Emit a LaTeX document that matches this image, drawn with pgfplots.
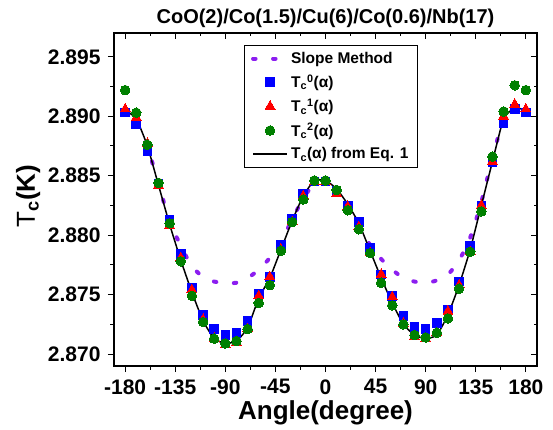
\documentclass[border=0pt]{standalone}
\usepackage{pgfplots}
\usepackage{pgfplotstable}
\pgfplotsset{compat=1.18}
\usepackage{fontspec}
\setmainfont{Liberation Sans}
\definecolor{slopec}{RGB}{140,30,240}
\definecolor{mygreen}{RGB}{0,128,0}

\pgfplotstableread{
x t0 t1 t2 eq sl
-180 2.8903 2.8906 2.8922 2.8905 2.8907
-170 2.8893 2.8899 2.8903 2.8898 2.8892
-160 2.8871 2.8877 2.8876 2.8875 2.8874
-150 2.8843 2.8842 2.8844 2.8842 2.8843
-140 2.8813 2.8808 2.8810 2.8809 2.8812
-130 2.8784 2.8781 2.8778 2.8779 2.8791
-120 2.8756 2.8754 2.8749 2.8752 2.8774
-110 2.8733 2.8729 2.8727 2.8728 2.8765
-100 2.8721 2.8713 2.8713 2.8713 2.8761
-90 2.8716 2.8708 2.8709 2.8709 2.8760
-80 2.8718 2.8710 2.8711 2.8711 2.8760
-70 2.8728 2.8721 2.8721 2.8722 2.8764
-60 2.8751 2.8749 2.8743 2.8747 2.8771
-50 2.8765 2.8765 2.8758 2.8764 2.8781
-40 2.8792 2.8788 2.8787 2.8788 2.8795
-30 2.8814 2.8811 2.8811 2.8812 2.8813
-20 2.8835 2.8833 2.8830 2.8833 2.8831
-10 2.8845 2.8845 2.8846 2.8846 2.8843
0 2.8845 2.8845 2.8846 2.8846 2.8846
10 2.8837 2.8835 2.8838 2.8839 2.8836
20 2.8825 2.8824 2.8821 2.8826 2.8822
30 2.8811 2.8807 2.8805 2.8810 2.8807
40 2.8789 2.8785 2.8785 2.8787 2.8792
50 2.8767 2.8767 2.8760 2.8764 2.8780
60 2.8749 2.8748 2.8741 2.8743 2.8771
70 2.8732 2.8726 2.8725 2.8725 2.8764
80 2.8723 2.8715 2.8716 2.8716 2.8761
90 2.8721 2.8713 2.8714 2.8713 2.8760
100 2.8726 2.8718 2.8718 2.8716 2.8762
110 2.8737 2.8736 2.8730 2.8733 2.8767
120 2.8761 2.8758 2.8755 2.8758 2.8779
130 2.8791 2.8786 2.8786 2.8788 2.8798
140 2.8825 2.8825 2.8820 2.8825 2.8828
150 2.8861 2.8862 2.8866 2.8862 2.8865
160 2.8894 2.8900 2.8904 2.8898 2.8897
170 2.8906 2.8910 2.8926 2.8907 2.8908
180 2.8903 2.8906 2.8922 2.8905 2.8907
}\data

\begin{document}
\begin{tikzpicture}
\pgfplotsset{
  common/.style={
    scale only axis, width=423pt, height=333pt,
    xmin=-190, xmax=190, ymin=2.869, ymax=2.897,
    xtick={-180,-135,-90,-45,0,45,90,135,180},
    ytick={2.870,2.875,2.880,2.885,2.890,2.895},
    minor x tick num=1, minor y tick num=1,
    major tick length=6pt, minor tick length=3.5pt,
    every tick/.style={black, line width=1pt},
  }
}
\begin{axis}[common, name=main,
    axis line style={line width=1.2pt},
    tick align=outside, xtick pos=bottom, ytick pos=left,
    xticklabels={-180,-135,-90,-45,0,45,90,135,180},
    yticklabels={2.870,2.875,2.880,2.885,2.890,2.895},
    ticklabel style={font=\fontsize{21}{21}\selectfont\bfseries},
    xticklabel style={yshift=-4pt},
    yticklabel style={xshift=-4pt},
    xlabel={Angle(degree)},
    xlabel style={font=\fontsize{26}{26}\selectfont\bfseries, at={(axis description cs:0.5,-0.141)}, anchor=center},
    ylabel={T\textsubscript{\bfseries c}\bfseries(K)},
    ylabel style={font=\fontsize{26}{26}\selectfont, at={(axis description cs:-0.203,0.51)}, anchor=center},
    title={CoO(2)/Co(1.5)/Cu(6)/Co(0.6)/Nb(17)},
    title style={font=\fontsize{20}{20}\selectfont\bfseries, at={(axis description cs:0.5,1.025)}, anchor=center},
    legend image code/.code={\draw[mark repeat=2,mark phase=2,#1] plot coordinates {(0pt,0pt) (17pt,0pt) (34pt,0pt)};},
    legend style={at={(0.307,0.964)}, anchor=north west, font=\fontsize{15.5}{17}\selectfont\bfseries,
      draw=black, inner xsep=7pt, inner ysep=5pt, row sep=6pt,
      nodes={inner sep=2pt}},
    legend cell align=left,
]
\addplot[slopec, line width=4pt, line cap=round, dash pattern=on 2.5pt off 17.5pt, smooth, tension=0.5] table[x=x,y=sl]{\data};
\addlegendentry{Slope Method}
\addplot[only marks, mark=square*, mark size=4.3pt, blue, mark options={line width=0pt}] table[x=x,y=t0]{\data};
\addlegendentry{T\textsubscript{c}\textsuperscript{0}(α)}
\addplot[only marks, mark=triangle*, mark size=5.7pt, red, mark options={line width=0pt}] table[x=x,y=t1]{\data};
\addlegendentry{T\textsubscript{c}\textsuperscript{1}(α)}
\addplot[only marks, mark=*, mark size=4.8pt, mygreen, mark options={line width=0pt}] table[x=x,y=t2]{\data};
\addlegendentry{T\textsubscript{c}\textsuperscript{2}(α)}
\addplot[black, line width=1.5pt, smooth, tension=0.3] table[x=x,y=eq]{\data};
\addlegendentry{T\textsubscript{c}(α) from Eq. 1}
\end{axis}
\begin{axis}[common, axis line style={draw=none},
    tick align=inside, xtick pos=top, ytick pos=right,
    xticklabels={}, yticklabels={}]
\end{axis}
\pgfresetboundingbox
\path[use as bounding box] ([xshift=-114pt,yshift=-63pt]main.south west) rectangle ([xshift=439pt,yshift=366pt]main.south west);
\end{tikzpicture}
\end{document}
